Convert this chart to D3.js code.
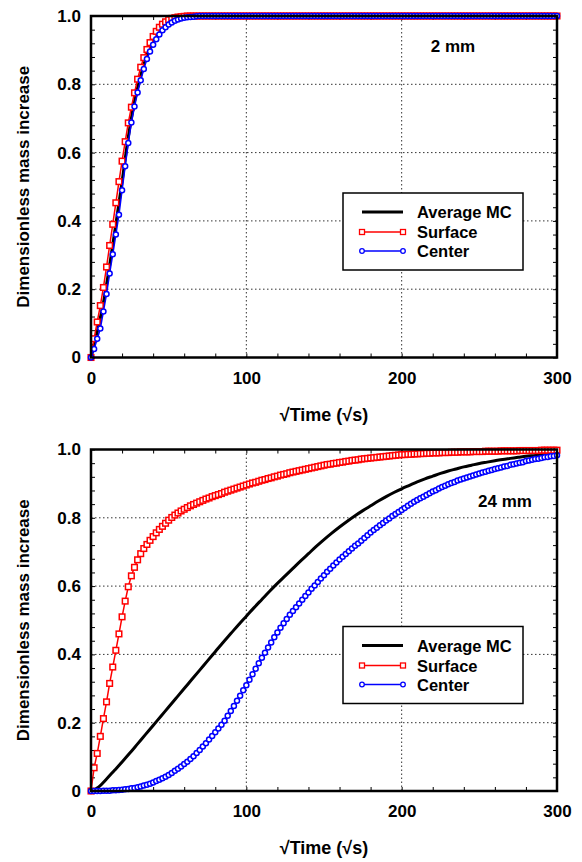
<!DOCTYPE html>
<html>
<head>
<meta charset="utf-8">
<script src="https://d3js.org/d3.v7.min.js"></script>
<style>
  body { margin: 0; background: #fff; }
  svg text { font-family: "Liberation Sans", Arial, sans-serif; font-weight: bold; fill: #000; }
</style>
</head>
<body>
<svg id="chart" width="582" height="862"></svg>
<script>
// sample grid of the model output, every 2 sqrt(s)
var sqrtT = d3.range(0, 302, 2);

// ---- 2 mm panel ----
var avgX2 = [0,4,8,12,16,20,24,28,32,36,40,44,48,52,56,60,64,68,72,76,80,120,160,200,240,280,300];
var avg2  = [0,0.075,0.16,0.27,0.39,0.515,0.645,0.75,0.825,0.885,0.925,0.953,0.972,0.985,0.992,0.996,0.998,0.999,1,1,1,1,1,1,1,1,1];
var surf2 = [0,0.055,0.104,0.152,0.205,0.265,0.328,0.39,0.453,0.515,0.575,0.632,0.687,0.733,0.775,0.815,0.85,0.878,0.902,0.922,
  0.94,0.955,0.967,0.976,0.983,0.989,0.993,0.995,0.997,0.998,0.999,
  1,1,1,1,1,1,1,1,1,1,1,1,1,1,1,1,1,1,1,1,
  1,1,1,1,1,1,1,1,1,1,1,1,1,1,1,1,1,1,1,1,
  1,1,1,1,1,1,1,1,1,1,1,1,1,1,1,1,1,1,1,1,
  1,1,1,1,1,1,1,1,1,1,1,1,1,1,1,1,1,1,1,1,
  1,1,1,1,1,1,1,1,1,1,1,1,1,1,1,1,1,1,1,1,
  1,1,1,1,1,1,1,1,1,1,1,1,1,1,1,1,1,1,1,1];
var cent2 = [0,0.025,0.055,0.085,0.135,0.186,0.246,0.302,0.36,0.418,0.49,0.56,0.628,0.688,0.735,0.776,0.812,0.845,0.874,0.896,
  0.916,0.932,0.946,0.958,0.967,0.975,0.981,0.986,0.99,0.993,0.995,0.996,0.997,0.998,0.999,
  1,1,1,1,1,1,1,1,1,1,1,1,1,1,1,1,1,1,1,1,
  1,1,1,1,1,1,1,1,1,1,1,1,1,1,1,1,1,1,1,1,
  1,1,1,1,1,1,1,1,1,1,1,1,1,1,1,1,1,1,1,1,
  1,1,1,1,1,1,1,1,1,1,1,1,1,1,1,1,1,1,1,1,
  1,1,1,1,1,1,1,1,1,1,1,1,1,1,1,1,1,1,1,1,
  1,1,1,1,1,1,1,1,1,1,1,1,1,1,1,1];

// ---- 24 mm panel ----
var avgX24 = d3.range(0, 301, 5);
var avg24 = [0,0.012,0.035,0.06,0.085,0.111,0.138,0.165,0.192,0.219,
  0.246,0.273,0.3,0.327,0.354,0.381,0.408,0.435,0.461,0.487,
  0.512,0.537,0.561,0.585,0.608,0.63,0.652,0.674,0.695,0.716,
  0.736,0.755,0.773,0.79,0.806,0.821,0.835,0.849,0.862,0.874,
  0.885,0.895,0.905,0.914,0.922,0.93,0.937,0.943,0.949,0.954,
  0.959,0.963,0.967,0.971,0.974,0.977,0.98,0.982,0.984,0.986,
  0.988];
var surf24 = [0,0.068,0.11,0.16,0.212,0.261,0.315,0.363,0.412,0.46,
  0.51,0.556,0.598,0.63,0.655,0.677,0.695,0.71,0.722,0.734,
  0.745,0.756,0.766,0.775,0.784,0.793,0.801,0.808,0.814,0.82,
  0.825,0.83,0.835,0.839,0.843,0.847,0.851,0.855,0.858,0.862,
  0.865,0.868,0.871,0.875,0.878,0.881,0.884,0.887,0.89,0.893,
  0.896,0.899,0.902,0.904,0.907,0.91,0.912,0.915,0.917,0.92,
  0.922,0.925,0.927,0.929,0.932,0.934,0.936,0.938,0.94,0.942,
  0.944,0.946,0.948,0.95,0.952,0.954,0.956,0.957,0.959,0.96,
  0.962,0.963,0.965,0.966,0.968,0.969,0.97,0.972,0.973,0.974,
  0.975,0.976,0.977,0.978,0.979,0.98,0.981,0.982,0.983,0.984,
  0.985,0.985,0.986,0.986,0.987,0.987,0.988,0.988,0.989,0.989,
  0.99,0.99,0.99,0.991,0.991,0.991,0.992,0.992,0.992,0.993,
  0.993,0.993,0.993,0.994,0.994,0.994,0.994,0.995,0.995,0.995,
  0.995,0.995,0.996,0.996,0.996,0.996,0.996,0.996,0.997,0.997,
  0.997,0.997,0.997,0.997,0.997,0.998,0.998,0.998,0.998,0.998,
  0.998];
var cent24 = [0,0,0,0,0.001,0.001,0.001,0.002,0.002,0.003,
  0.004,0.005,0.006,0.008,0.009,0.011,0.013,0.016,0.018,0.021,
  0.025,0.029,0.033,0.037,0.042,0.047,0.053,0.059,0.065,0.072,
  0.079,0.086,0.094,0.102,0.111,0.12,0.13,0.14,0.151,0.161,
  0.172,0.183,0.194,0.206,0.22,0.234,0.249,0.264,0.279,0.295,
  0.31,0.326,0.342,0.358,0.374,0.39,0.405,0.42,0.435,0.45,
  0.464,0.478,0.491,0.504,0.516,0.527,0.538,0.549,0.56,0.571,
  0.581,0.592,0.602,0.612,0.622,0.632,0.642,0.651,0.66,0.669,
  0.678,0.686,0.694,0.702,0.71,0.718,0.725,0.733,0.741,0.749,
  0.757,0.764,0.771,0.778,0.785,0.792,0.798,0.805,0.811,0.817,
  0.823,0.829,0.835,0.841,0.847,0.852,0.857,0.862,0.867,0.872,
  0.877,0.881,0.886,0.89,0.894,0.898,0.902,0.905,0.909,0.912,
  0.915,0.918,0.921,0.924,0.927,0.93,0.933,0.935,0.938,0.94,
  0.943,0.945,0.947,0.95,0.952,0.955,0.957,0.959,0.961,0.963,
  0.966,0.968,0.97,0.972,0.973,0.975,0.977,0.978,0.98,0.981,
  0.983];

var xTicks = [0, 100, 200, 300];
var yTicks = [0, 0.2, 0.4, 0.6, 0.8, 1.0];
var legendNames = ["Average MC", "Surface", "Center"];

function pairs(xs, ys) {
  if (xs.length !== ys.length) throw new Error("length mismatch " + xs.length + " vs " + ys.length);
  return ys.map(function(v, i) { return [xs[i], v]; });
}

var svg = d3.select("#chart");
var left = 91, right = 557, ph = 341.5;
var sq = 5.6, cr = 2.5, mw = 1.5;

var panels = [
  { top: 16,    tag: "2 mm",  tagX: 453, tagY: 36,   avg: pairs(avgX2, avg2),   surf: pairs(sqrtT, surf2),  cent: pairs(sqrtT, cent2) },
  { top: 449.5, tag: "24 mm", tagX: 505, tagY: 57.5, avg: pairs(avgX24, avg24), surf: pairs(sqrtT, surf24), cent: pairs(sqrtT, cent24) }
];

panels.forEach(function(p) {
  var x = d3.scaleLinear().domain([0, 300]).range([left, right]);
  var y = d3.scaleLinear().domain([0, 1]).range([p.top + ph, p.top]);
  var g = svg.append("g");

  // dotted grid
  g.selectAll(".gx").data([100, 200]).enter().append("line")
    .attr("x1", function(d) { return x(d); }).attr("x2", function(d) { return x(d); })
    .attr("y1", y(0)).attr("y2", y(1))
    .attr("stroke", "#333").attr("stroke-width", 1).attr("stroke-dasharray", "1.5,2.5");
  g.selectAll(".gy").data([0.2, 0.4, 0.6, 0.8]).enter().append("line")
    .attr("x1", x(0)).attr("x2", x(300))
    .attr("y1", function(d) { return y(d); }).attr("y2", function(d) { return y(d); })
    .attr("stroke", "#333").attr("stroke-width", 1).attr("stroke-dasharray", "1.5,2.5");

  // inward minor ticks on all four sides
  var minorX = d3.range(0, 301, 20), minorY = d3.range(0, 1.001, 0.04);
  g.append("g").attr("transform", "translate(0," + y(0) + ")")
    .call(d3.axisBottom(x).tickValues(minorX).tickSize(-4).tickFormat("")).call(clean);
  g.append("g").attr("transform", "translate(0," + y(1) + ")")
    .call(d3.axisTop(x).tickValues(minorX).tickSize(-4).tickFormat("")).call(clean);
  g.append("g").attr("transform", "translate(" + x(0) + ",0)")
    .call(d3.axisLeft(y).tickValues(minorY).tickSize(-4).tickFormat("")).call(clean);
  g.append("g").attr("transform", "translate(" + x(300) + ",0)")
    .call(d3.axisRight(y).tickValues(minorY).tickSize(-4).tickFormat("")).call(clean);

  // tick labels
  g.append("g").attr("transform", "translate(0," + y(0) + ")")
    .call(d3.axisBottom(x).tickValues(xTicks).tickSize(0).tickPadding(14).tickFormat(d3.format("d")))
    .call(labels);
  g.append("g").attr("transform", "translate(" + (x(0) - 10) + ",0)")
    .call(d3.axisLeft(y).tickValues(yTicks).tickSize(0).tickPadding(0)
      .tickFormat(function(d) { return d === 0 ? "0" : d3.format(".1f")(d); }))
    .call(labels);

  // axis titles
  g.append("text").attr("x", (left + right) / 2).attr("y", y(0) + 63)
    .attr("text-anchor", "middle").attr("font-size", 18).text("\u221ATime (\u221As)");
  g.append("text").attr("transform", "translate(29," + (p.top + ph / 2) + ") rotate(-90)")
    .attr("text-anchor", "middle").attr("font-size", 17).text("Dimensionless mass increase");

  g.append("text").attr("x", p.tagX).attr("y", p.top + p.tagY)
    .attr("text-anchor", "middle").attr("font-size", 17).text(p.tag);

  // series
  var lineSmooth = d3.line().x(function(d) { return x(d[0]); }).y(function(d) { return y(d[1]); }).curve(d3.curveMonotoneX);
  var line = d3.line().x(function(d) { return x(d[0]); }).y(function(d) { return y(d[1]); });

  g.append("path").datum(p.avg).attr("d", lineSmooth)
    .attr("fill", "none").attr("stroke", "#000").attr("stroke-width", 3);

  g.append("path").datum(p.surf).attr("d", line)
    .attr("fill", "none").attr("stroke", "#f00").attr("stroke-width", 1.5);
  g.selectAll(".sq").data(p.surf).enter().append("rect")
    .attr("x", function(d) { return x(d[0]) - sq / 2; }).attr("y", function(d) { return y(d[1]) - sq / 2; })
    .attr("width", sq).attr("height", sq)
    .attr("fill", "#fff").attr("stroke", "#f00").attr("stroke-width", mw);

  g.append("path").datum(p.cent).attr("d", line)
    .attr("fill", "none").attr("stroke", "#00f").attr("stroke-width", 1.5);
  g.selectAll(".ci").data(p.cent).enter().append("circle")
    .attr("cx", function(d) { return x(d[0]); }).attr("cy", function(d) { return y(d[1]); })
    .attr("r", cr).attr("fill", "#fff").attr("stroke", "#00f").attr("stroke-width", mw);

  // frame
  g.append("rect").attr("x", left).attr("y", p.top).attr("width", right - left).attr("height", ph)
    .attr("fill", "none").attr("stroke", "#000").attr("stroke-width", 2.5);

  // legend
  var ly = p.top + 177;
  var lg = g.append("g");
  lg.append("rect").attr("x", 343).attr("y", ly).attr("width", 180).attr("height", 77)
    .attr("fill", "#fff").attr("stroke", "#000").attr("stroke-width", 1.5);
  var rows = [19, 39, 58];
  legendNames.forEach(function(name, i) {
    var yy = ly + rows[i];
    var col = ["#000", "#f00", "#00f"][i];
    lg.append("line").attr("x1", 362).attr("x2", 403).attr("y1", yy).attr("y2", yy)
      .attr("stroke", col).attr("stroke-width", i === 0 ? 3 : 1.5);
    if (i === 1) {
      [362, 403].forEach(function(cx) {
        lg.append("rect").attr("x", cx - 2.5).attr("y", yy - 2.5).attr("width", 5).attr("height", 5)
          .attr("fill", "#fff").attr("stroke", col).attr("stroke-width", 1.3);
      });
    }
    if (i === 2) {
      [362, 403].forEach(function(cx) {
        lg.append("circle").attr("cx", cx).attr("cy", yy).attr("r", 2.3)
          .attr("fill", "#fff").attr("stroke", col).attr("stroke-width", 1.3);
      });
    }
    lg.append("text").attr("x", 417).attr("y", yy + 6).attr("font-size", 16.5).text(name);
  });
});

function clean(sel) {
  sel.select(".domain").remove();
  sel.selectAll(".tick line").attr("stroke", "#000").attr("stroke-width", 1);
}
function labels(sel) {
  sel.select(".domain").remove();
  sel.selectAll(".tick text").attr("font-size", 17).attr("fill", "#000")
    .style("font-family", "'Liberation Sans', Arial, sans-serif").style("font-weight", "bold");
}
</script>
</body>
</html>
